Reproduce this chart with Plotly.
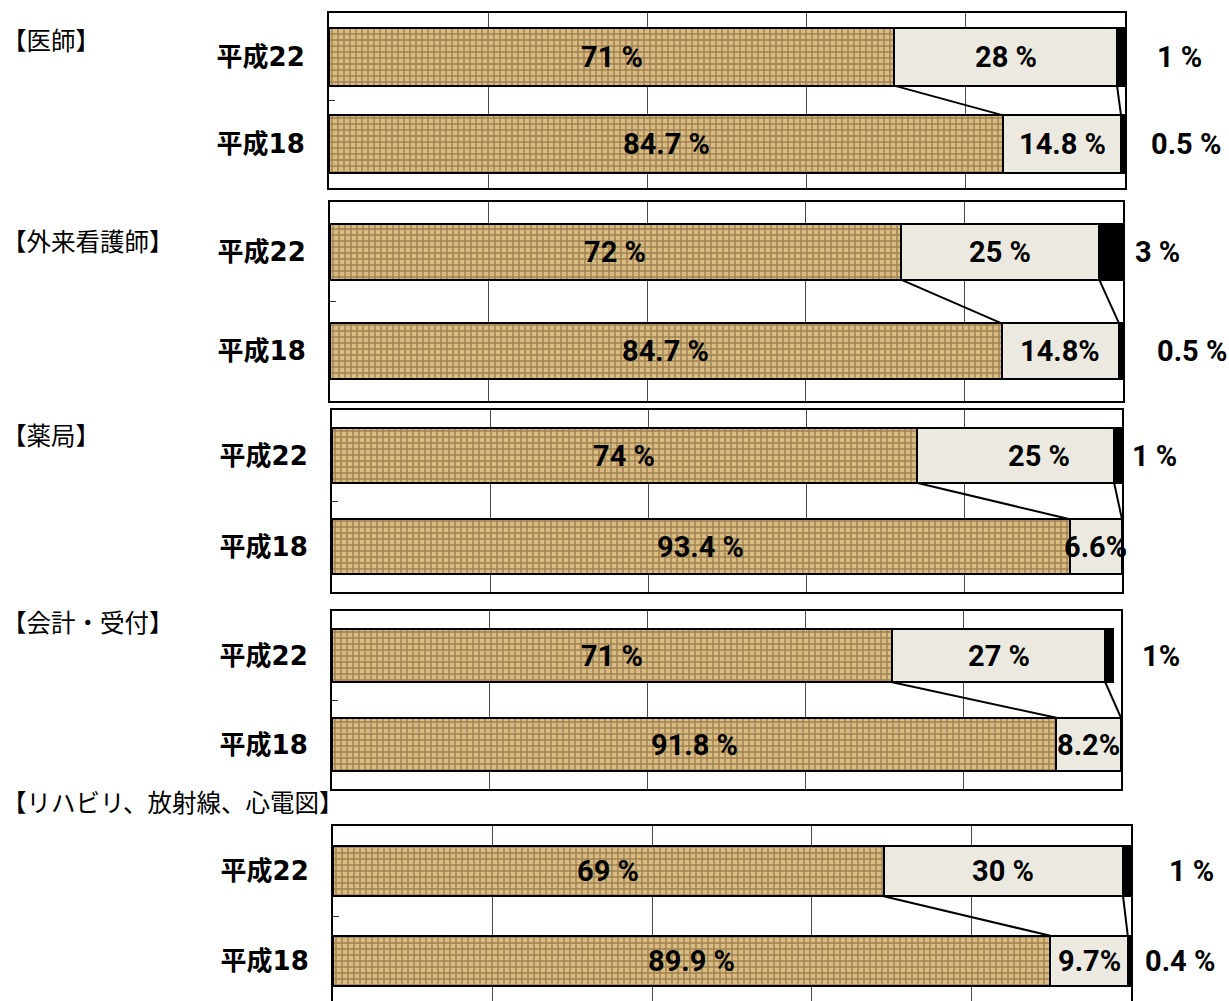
import plotly.graph_objects as go

# ---- data -------------------------------------------------------------
groups = ["【医師】", "【外来看護師】", "【薬局】", "【会計・受付】", "【リハビリ、放射線、心電図】"]
years = ["平成22", "平成18"]

# segment values (%) for 平成22
seg1_h22 = [71, 72, 74, 71, 69]
seg2_h22 = [28, 25, 25, 27, 30]
seg3_h22 = [1, 3, 1, 1, 1]
# segment values (%) for 平成18
seg1_h18 = [84.7, 84.7, 93.4, 91.8, 89.9]
seg2_h18 = [14.8, 14.8, 6.6, 8.2, 9.7]
seg3_h18 = [0.5, 0.5, 0, 0, 0.4]

# printed labels
lab1_h22 = ["71 %", "72 %", "74 %", "71 %", "69 %"]
lab2_h22 = ["28 %", "25 %", "25 %", "27 %", "30 %"]
lab3_h22 = ["1 %", "3 %", "1 %", "1%", "1 %"]
lab1_h18 = ["84.7 %", "84.7 %", "93.4 %", "91.8 %", "89.9 %"]
lab2_h18 = ["14.8 %", "14.8%", "6.6%", "8.2%", "9.7%"]
lab3_h18 = ["0.5 %", "0.5 %", "", "", "0.4 %"]

# ---- layout constants ---------------------------------------------------
W, H = 1229, 1001
# panel frames in pixels: (left, right, top, bottom)
frames = [(329, 1125, 13, 188), (330, 1123, 202, 401), (332, 1122, 410, 592),
          (332, 1121, 611, 789), (333, 1131, 826, 1001)]
bar_w = [0.66, 0.56, 0.6, 0.6, 0.56]
y_ranges = [[-0.5, 1.5]] * 4 + [[1.5 - 175 / 90, 1.5]]
title_y = [39, 240, 434, 621, 801]
# x positions (fraction of the axis width) of the labels written outside the bars
out_x_h22 = [1.069, 1.043, 1.041, 1.051, 1.076]
out_x_h18 = [1.077, 1.087, None, None, 1.061]
# small nudges for labels that do not sit at the segment centre
nudge = {(2, 0, 2): 3.0}

FILL_COLORS = dict(light="#ECEAE0", dark="#000000")
texture = dict(shape="+", fgcolor="#634822", bgcolor="#D9BC82", size=6, solidity=0.42)
PCT_FONT = dict(family="Roboto, sans-serif", size=29, color="black")
YEAR_FONT = dict(family="DejaVu Sans, Noto Sans CJK JP, sans-serif", size=26, color="black")
TITLE_FONT = dict(family="Noto Sans CJK JP, sans-serif", size=24.5, color="black")
EDGE = dict(color="black", width=2)

fig = go.Figure()
annotations = []
layout = {}

for i in range(5):
    xa = "x" if i == 0 else f"x{i + 1}"
    ya = "y" if i == 0 else f"y{i + 1}"
    xkey = "xaxis" if i == 0 else f"xaxis{i + 1}"
    ykey = "yaxis" if i == 0 else f"yaxis{i + 1}"
    l, r, t, b = frames[i]
    w = bar_w[i]
    yv = [1, 0]

    vals = [
        [seg1_h22[i], seg1_h18[i]],
        [seg2_h22[i], seg2_h18[i]],
        [seg3_h22[i], seg3_h18[i]],
    ]
    markers = [
        dict(color="#C4A670", pattern=texture, line=EDGE),
        dict(color=FILL_COLORS["light"], line=EDGE),
        dict(color=FILL_COLORS["dark"], line=EDGE),
    ]
    for k in range(3):
        fig.add_trace(go.Bar(
            x=vals[k], y=yv, orientation="h", width=w,
            marker=markers[k], xaxis=xa, yaxis=ya,
            showlegend=False, hoverinfo="skip",
        ))

    # series lines joining the segment boundaries of the two bars
    c1_22 = seg1_h22[i]
    c2_22 = seg1_h22[i] + seg2_h22[i]
    c1_18 = seg1_h18[i]
    c2_18 = seg1_h18[i] + seg2_h18[i]
    fig.add_trace(go.Scatter(
        x=[c1_22, c1_18, None, c2_22, c2_18],
        y=[1 - w / 2, w / 2, None, 1 - w / 2, w / 2],
        mode="lines", line=dict(color="black", width=2),
        xaxis=xa, yaxis=ya, showlegend=False, hoverinfo="skip",
    ))

    # value labels
    rows = [
        (1, [seg1_h22[i], seg2_h22[i]], [lab1_h22[i], lab2_h22[i]], lab3_h22[i], out_x_h22[i]),
        (0, [seg1_h18[i], seg2_h18[i]], [lab1_h18[i], lab2_h18[i]], lab3_h18[i], out_x_h18[i]),
    ]
    for ri, (yy, segs, labs, lab3, ox) in enumerate(rows):
        start = 0
        for s, (v, txt) in enumerate(zip(segs, labs)):
            cx = start + v / 2 + nudge.get((i, ri, s + 1), 0)
            annotations.append(dict(
                x=cx, y=yy, xref=xa, yref=ya, text=f"<b>{txt}</b>",
                showarrow=False, font=PCT_FONT, xanchor="center", yanchor="middle",
            ))
            start += v
        if lab3:
            annotations.append(dict(
                x=ox, y=yy, xref=f"{xa} domain", yref=ya, text=f"<b>{lab3}</b>",
                showarrow=False, font=PCT_FONT, xanchor="center", yanchor="middle",
            ))

    # panel title
    annotations.append(dict(
        x=0, y=1 - title_y[i] / H, xref="paper", yref="paper",
        text=groups[i], showarrow=False, font=TITLE_FONT,
        xanchor="left", yanchor="middle",
    ))

    last = i == 4
    layout[xkey] = dict(
        domain=[l / W, r / W], range=[0, 100], anchor=ya,
        showgrid=True, gridcolor="#4a4a4a", gridwidth=1,
        tickmode="array", tickvals=[20, 40, 60, 80], showticklabels=False, ticks="",
        showline=True, linecolor="black", linewidth=2,
        mirror=not last, side="top" if last else "bottom",
        zeroline=False, fixedrange=True,
    )
    layout[ykey] = dict(
        domain=[max(0, 1 - b / H), 1 - t / H], range=y_ranges[i], anchor=xa,
        tickmode="array", tickvals=yv, ticktext=[f"<b>{y}</b>" for y in years],
        ticks="", ticklabelstandoff=17, tickfont=YEAR_FONT,
        showline=True, linecolor="black", linewidth=2, mirror=True,
        showgrid=False, zeroline=False, fixedrange=True,
        minor=dict(tickmode="array", tickvals=[0.5], ticks="inside", ticklen=6,
                   tickcolor="#333333", tickwidth=1),
    )

fig.update_layout(
    width=W, height=H,
    margin=dict(l=0, r=0, t=0, b=0),
    paper_bgcolor="white", plot_bgcolor="white",
    barmode="stack", bargap=0,
    annotations=annotations,
    **layout,
)

fig.write_html("out.html")
